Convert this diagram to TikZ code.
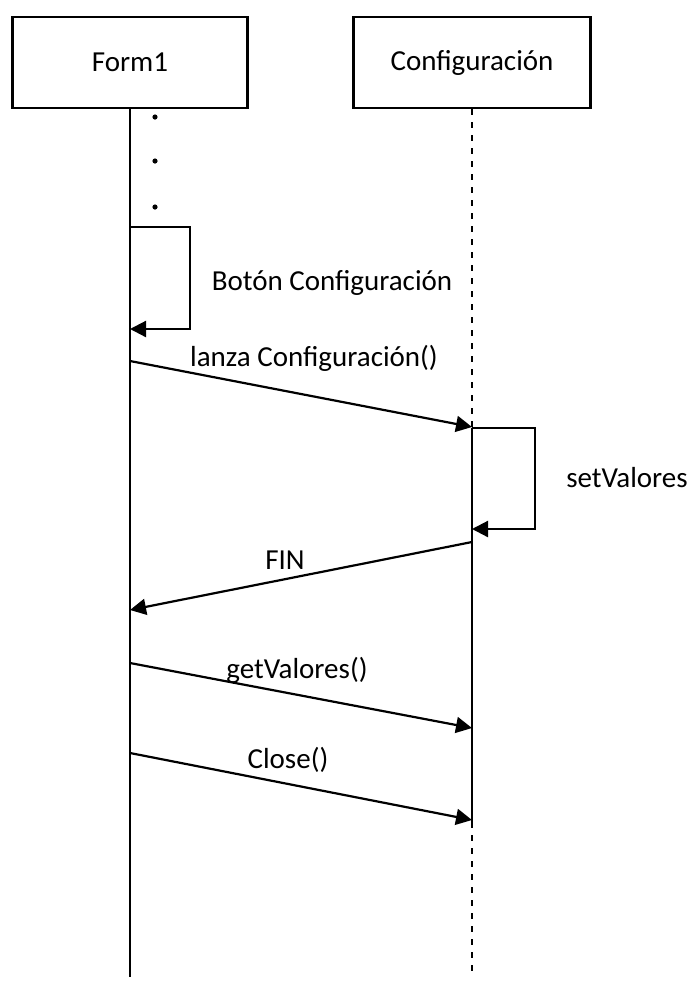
\documentclass[tikz,border=0pt]{standalone}
\usepackage{fontspec}
\setmainfont{Carlito}
\usetikzlibrary{arrows.meta}
\begin{document}
\begin{tikzpicture}[x=1pt,y=-1pt,
  line width=2.2pt,
  obj/.style={draw, minimum width=235pt, minimum height=91pt, inner sep=0pt, font=\fontsize{29}{34}\selectfont},
  msg/.style={-{Triangle[length=16pt,width=16pt]}},
  lbl/.style={anchor=base, inner sep=0pt, font=\fontsize{29}{34}\selectfont},
  dashedlife/.style={dash pattern=on 6pt off 7pt}]
\useasboundingbox (0,0) rectangle (694,986);
\node[obj] (form) at (130,62.5) {Form1};
\node[obj, minimum width=237pt] (conf) at (472,62.5) {Configuración};
% lifeline coordinates
\coordinate (fend) at (130,977);
\coordinate (cend) at (472,977);
\coordinate (ca0) at (472,428);
\coordinate (ca1) at (472,822);
\draw (form.south) -- (fend);
\draw[dashedlife] (conf.south) -- (ca0);
\draw (ca0) -- (ca1);
\draw[dashedlife] (ca1) -- (cend);
% dots
\fill (155,117) circle (2.6);
\fill (155,161) circle (2.6);
\fill (155,207) circle (2.6);
% message points
\coordinate (l1a) at (130,227);
\coordinate (l1b) at (130,329);
\coordinate (f1) at (130,361);
\coordinate (c1) at (472,427);
\coordinate (c2) at (472,428);
\coordinate (c3) at (472,529);
\coordinate (c4) at (472,542);
\coordinate (f2) at (130,610);
\coordinate (f3) at (130,663);
\coordinate (c5) at (472,728);
\coordinate (f4) at (130,753);
\coordinate (c6) at (472,820);
% messages
\draw[msg] (l1a) -- ++(60,0) |- (l1b);
\draw[msg] (f1) -- (c1);
\draw[msg] (c2) -- ++(63,0) |- (c3);
\draw[msg] (c4) -- (f2);
\draw[msg] (f3) -- (c5);
\draw[msg] (f4) -- (c6);
% labels
\node[lbl] (lb1) at (332,290) {Botón Configuración};
\node[lbl] (lb2) at (314,366) {lanza Configuración()};
\node[lbl] (lb3) at (627,487) {setValores};
\node[lbl] (lb4) at (285,569) {FIN};
\node[lbl] (lb5) at (297,678) {getValores()};
\node[lbl] (lb6) at (288,768) {Close()};
\end{tikzpicture}
\end{document}
